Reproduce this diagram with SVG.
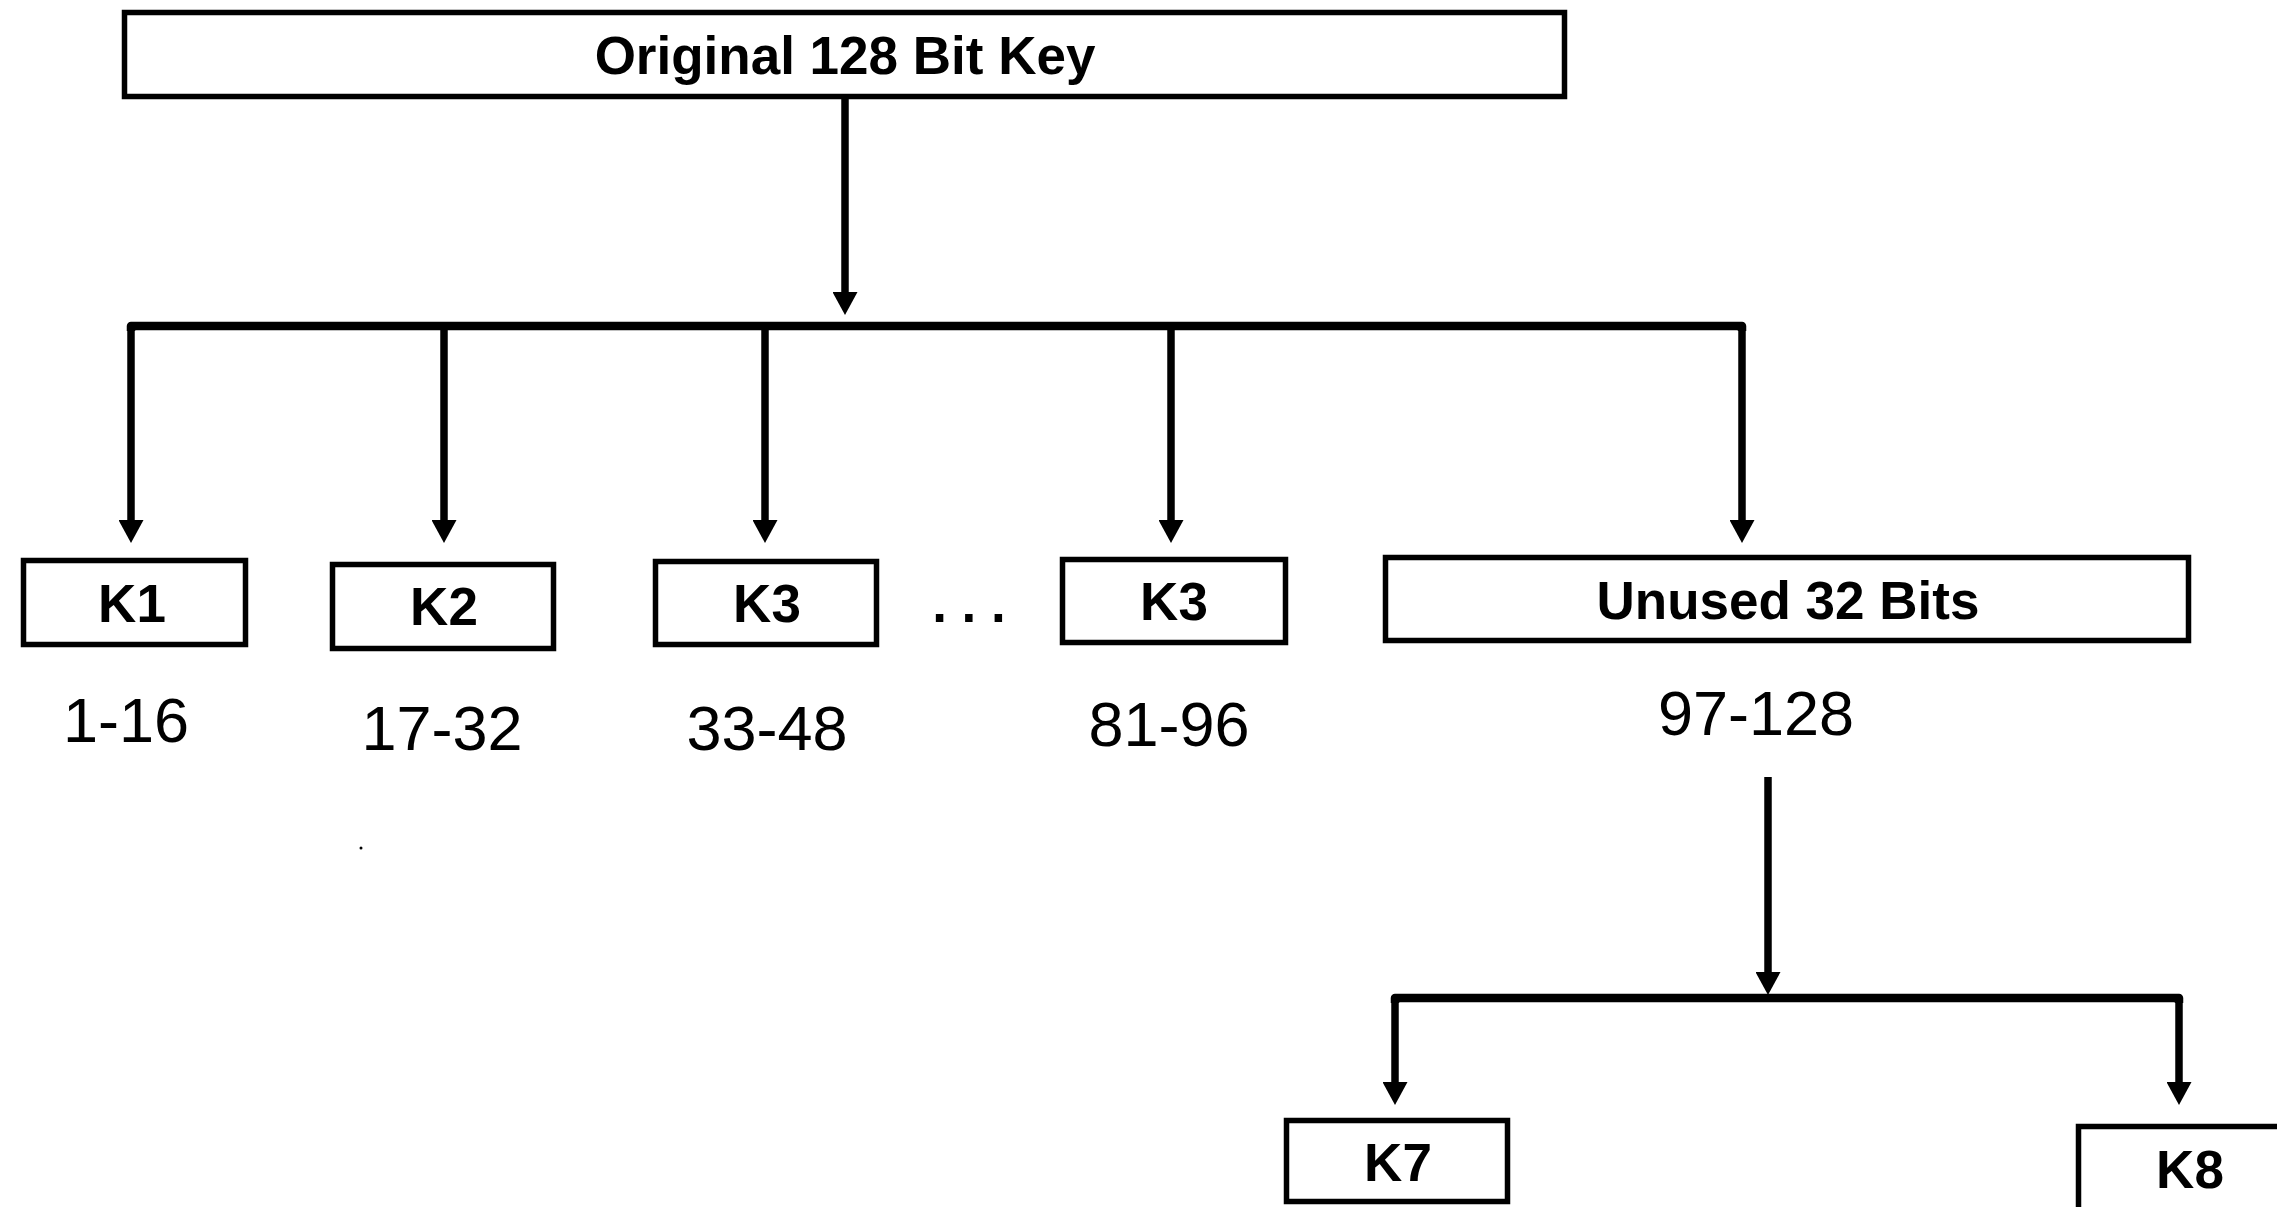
<svg xmlns="http://www.w3.org/2000/svg" width="2277" height="1207" viewBox="0 0 2277 1207">
<style>
.box{fill:#fff;stroke:#000;stroke-width:5.5}
.lbl{font-family:"Liberation Sans",Arial,sans-serif;font-weight:bold;font-size:53px;text-anchor:middle;fill:#000}
.rng{font-family:"Liberation Sans",Arial,sans-serif;font-size:63px;text-anchor:middle;fill:#000}
.ln{fill:none;stroke:#000;stroke-width:7.5}
.bar{fill:none;stroke:#000;stroke-width:8.5;stroke-linejoin:round}
</style>
<defs>
<marker id="ah" markerUnits="userSpaceOnUse" markerWidth="25" markerHeight="25" refX="0" refY="12.5" orient="auto" viewBox="0 0 25 25">
<path d="M0,0 L23,12.5 L0,25 z" fill="#000"/>
</marker>
</defs>
<rect width="2277" height="1207" fill="#fff"/>
<g id="connectors">
<line class="ln" x1="845" y1="99" x2="845" y2="292" marker-end="url(#ah)"/>
<path class="bar" d="M131,331 V326 H1742 V331"/>
<line class="ln" x1="131" y1="326" x2="131" y2="520" marker-end="url(#ah)"/>
<line class="ln" x1="444" y1="326" x2="444" y2="520" marker-end="url(#ah)"/>
<line class="ln" x1="765" y1="326" x2="765" y2="520" marker-end="url(#ah)"/>
<line class="ln" x1="1171" y1="326" x2="1171" y2="520" marker-end="url(#ah)"/>
<line class="ln" x1="1742" y1="326" x2="1742" y2="520" marker-end="url(#ah)"/>
<line class="ln" x1="1768" y1="777" x2="1768" y2="972" marker-end="url(#ah)"/>
<path class="bar" d="M1395,1003 V998 H2179 V1003"/>
<line class="ln" x1="1395" y1="998" x2="1395" y2="1082" marker-end="url(#ah)"/>
<line class="ln" x1="2179" y1="998" x2="2179" y2="1082" marker-end="url(#ah)"/>
</g>
<g id="key">
<rect class="box" x="124.5" y="12.5" width="1440" height="84"/>
<text class="lbl" x="845" y="74">Original 128 Bit Key</text>
</g>
<g id="k1">
<rect class="box" x="23.5" y="560.5" width="222" height="84"/>
<text class="lbl" x="132" y="622">K1</text>
</g>
<g id="k2">
<rect class="box" x="332.5" y="564.5" width="221" height="84"/>
<text class="lbl" x="444" y="625">K2</text>
</g>
<g id="k3">
<rect class="box" x="655.5" y="561.5" width="221" height="83"/>
<text class="lbl" x="767" y="622">K3</text>
</g>
<g id="dots">
<text class="lbl" x="969" y="622">. . .</text>
</g>
<g id="k3b">
<rect class="box" x="1062.5" y="559.5" width="223" height="83"/>
<text class="lbl" x="1174" y="620">K3</text>
</g>
<g id="unused">
<rect class="box" x="1385.5" y="557.5" width="803" height="83"/>
<text class="lbl" x="1788" y="619">Unused 32 Bits</text>
</g>
<g id="k7">
<rect class="box" x="1286.5" y="1120.5" width="221" height="81"/>
<text class="lbl" x="1398" y="1181">K7</text>
</g>
<g id="k8">
<rect class="box" x="2078.5" y="1126.5" width="250" height="120"/>
<text class="lbl" x="2190" y="1188">K8</text>
</g>
<g id="ranges">
<text class="rng" x="126" y="742">1-16</text>
<text class="rng" x="442" y="750">17-32</text>
<text class="rng" x="767" y="750">33-48</text>
<text class="rng" x="1169" y="746">81-96</text>
<text class="rng" x="1756" y="735">97-128</text>
</g>
<circle cx="361" cy="848" r="1.5" fill="#000"/>
</svg>
